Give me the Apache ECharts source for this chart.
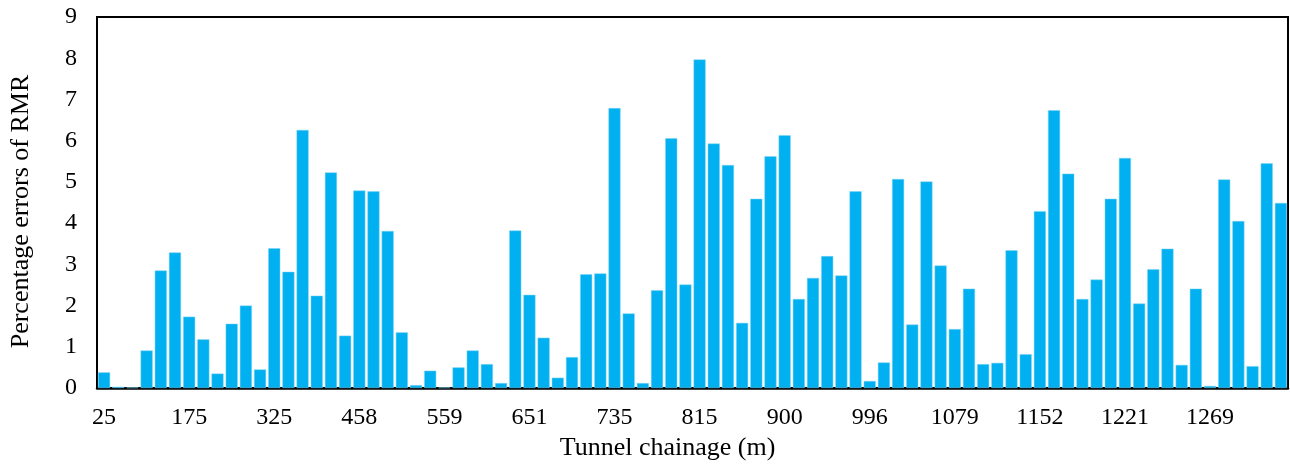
<!DOCTYPE html>
<html>
<head>
<meta charset="utf-8">
<script src="https://cdn.jsdelivr.net/npm/echarts@6/dist/echarts.min.js"></script>
<style>
  html, body { margin: 0; padding: 0; background: #fff; }
  #chart { width: 1290px; height: 468px; }
</style>
</head>
<body>
<div id="chart"></div>
<script>
// chainage labels shown under every 6th bar
const tickLabels = ['25', '175', '325', '458', '559', '651', '735', '815', '900', '996', '1079', '1152', '1221', '1269'];

// percentage errors of RMR, read bar by bar
const errors = [
  0.38, 0.03, 0.01, 0.91, 2.85, 3.29, 1.73, 1.18, 0.35, 1.56, 2.00, 0.45,
  3.39, 2.82, 6.26, 2.24, 5.23, 1.27, 4.79, 4.77, 3.81, 1.35, 0.07, 0.42,
  0.01, 0.50, 0.91, 0.58, 0.12, 3.82, 2.26, 1.22, 0.25, 0.75, 2.76, 2.78,
  6.79, 1.81, 0.12, 2.37, 6.06, 2.51, 7.97, 5.93, 5.41, 1.58, 4.59, 5.62,
  6.13, 2.16, 2.67, 3.20, 2.73, 4.77, 0.17, 0.62, 5.07, 1.54, 5.01, 2.97,
  1.43, 2.41, 0.58, 0.61, 3.34, 0.82, 4.29, 6.74, 5.20, 2.16, 2.63, 4.59,
  5.58, 2.05, 2.88, 3.38, 0.56, 2.41, 0.05, 5.06, 4.05, 0.53, 5.45, 4.49
];

const labelStep = 6;
const categories = [];
for (var i = 0; i < errors.length; i++) {
  categories.push(String(i));
}

const fontFamily = '"Liberation Serif", "Times New Roman", serif';

var chart = echarts.init(document.getElementById('chart'), null, { renderer: 'canvas' });

chart.setOption({
  animation: false,
  backgroundColor: '#fff',
  grid: {
    left: 97,
    right: 2,
    top: 17,
    bottom: 80,
    show: true,
    borderColor: '#000',
    borderWidth: 2,
    containLabel: false
  },
  xAxis: {
    type: 'category',
    data: categories,
    name: 'Tunnel chainage (m)',
    nameLocation: 'middle',
    nameGap: 47,
    nameTextStyle: {
      fontFamily: fontFamily,
      fontSize: 26,
      color: '#000',
      padding: [0, 50, 0, 0]
    },
    axisLine: { lineStyle: { color: '#000', width: 2.5 } },
    axisTick: { show: false },
    axisLabel: {
      interval: labelStep - 1,
      margin: 18,
      fontFamily: fontFamily,
      fontSize: 24,
      color: '#000',
      formatter: function (value, index) {
        return tickLabels[Math.floor(index / labelStep)] || '';
      }
    }
  },
  yAxis: {
    type: 'value',
    min: 0,
    max: 9,
    interval: 1,
    name: 'Percentage errors of RMR',
    nameLocation: 'middle',
    nameGap: 63,
    nameTextStyle: {
      fontFamily: fontFamily,
      fontSize: 26,
      color: '#000',
      padding: [0, 18, 0, 0]
    },
    axisLine: { show: true, lineStyle: { color: '#000', width: 2 } },
    axisTick: { show: false },
    splitLine: { show: false },
    axisLabel: {
      margin: 20,
      fontFamily: fontFamily,
      fontSize: 24,
      color: '#000'
    }
  },
  series: [
    {
      type: 'bar',
      data: errors,
      barCategoryGap: '15%',
      itemStyle: {
        color: '#00B0F0',
        borderColor: '#7fd4f4',
        borderWidth: 0.5
      }
    }
  ]
});
</script>
</body>
</html>
